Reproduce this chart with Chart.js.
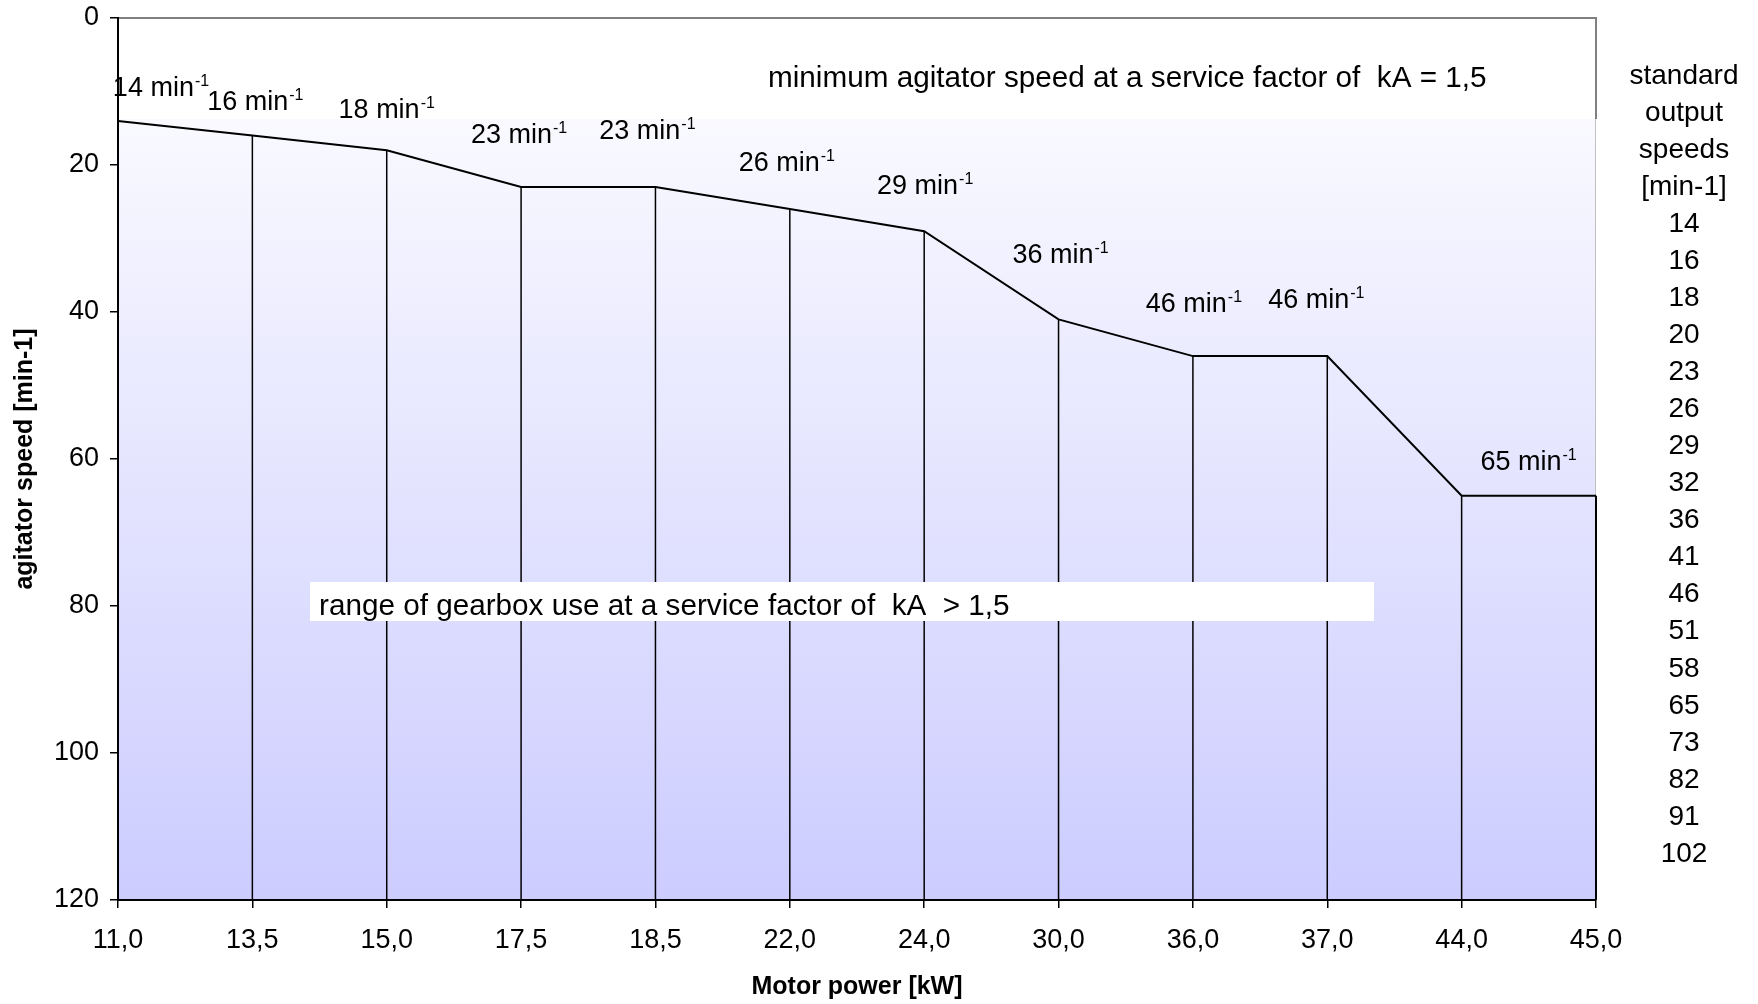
<!DOCTYPE html>
<html>
<head>
<meta charset="utf-8">
<script src="https://cdn.jsdelivr.net/npm/chart.js@4.4.1/dist/chart.umd.min.js"></script>
<style>
  html, body { margin: 0; padding: 0; background: #fff; }
</style>
</head>
<body>
<canvas id="speedChart" width="1758" height="1004"></canvas>
<script>
// data
const motorPower = ["11,0", "13,5", "15,0", "17,5", "18,5", "22,0", "24,0", "30,0", "36,0", "37,0", "44,0", "45,0"];
const minSpeed = [14, 16, 18, 23, 23, 26, 29, 41, 46, 46, 65, 65];
const labelSpeed = [14, 16, 18, 23, 23, 26, 29, 36, 46, 46, 65, null];
const yTicks = [0, 20, 40, 60, 80, 100, 120];
const columnHead = ["standard", "output", "speeds", "[min-1]"];
const standardSpeeds = [14, 16, 18, 20, 23, 26, 29, 32, 36, 41, 46, 51, 58, 65, 73, 82, 91, 102];

const FONT = "'Liberation Sans', Arial, sans-serif";
Chart.defaults.font.family = FONT;
Chart.defaults.color = "#000";

// small nudges for the min-1 labels (dx from point, baseline above point)
const labelNudge = [[43, -25], [3, -26], [0, -32], [-2, -44], [-8, -48], [-3, -38],
                    [1, -37], [2, -56], [1, -44], [-11, -48], [67, -26]];

function drawSpeedLabel(ctx, value, cx, baseline) {
    const main = value + " min";
    ctx.font = "27px " + FONT;
    const w1 = ctx.measureText(main).width;
    ctx.font = "16px " + FONT;
    const w2 = ctx.measureText("-1").width;
    const x0 = cx - (w1 + w2 + 1) / 2;
    ctx.font = "27px " + FONT;
    ctx.fillText(main, x0, baseline);
    ctx.font = "16px " + FONT;
    ctx.fillText("-1", x0 + w1 + 1, baseline - 10);
}

const plotDecor = {
    id: "plotDecor",
    beforeDraw(chart) {
        const { ctx, chartArea: a } = chart;
        ctx.save();
        const g = ctx.createLinearGradient(0, a.top, 0, a.bottom);
        g.addColorStop(0, "#ffffff");
        g.addColorStop(1, "#ccccff");
        ctx.fillStyle = g;
        ctx.fillRect(a.left, a.top, a.right - a.left, a.bottom - a.top);
        // white box behind the top note
        ctx.fillStyle = "#ffffff";
        ctx.fillRect(a.left, a.top, a.right - a.left, 101);
        ctx.strokeStyle = "#808080";
        ctx.lineWidth = 2;
        ctx.beginPath();
        ctx.moveTo(a.left, a.top);
        ctx.lineTo(a.right, a.top);
        ctx.lineTo(a.right, a.top + 101);
        ctx.stroke();
        ctx.strokeStyle = "#c0c0c0";
        ctx.lineWidth = 1;
        ctx.beginPath();
        ctx.moveTo(a.right - 0.5, a.top + 101);
        ctx.lineTo(a.right - 0.5, a.bottom);
        ctx.stroke();
        ctx.restore();
    },
    afterDatasetsDraw(chart) {
        const { ctx, chartArea: a } = chart;
        const pts = chart.getDatasetMeta(0).data;
        ctx.save();

        // drop lines from the curve to the axis
        ctx.strokeStyle = "#000";
        pts.forEach((p, i) => {
            ctx.lineWidth = i === pts.length - 1 ? 2 : 1.5;
            ctx.beginPath();
            ctx.moveTo(p.x, p.y);
            ctx.lineTo(p.x, a.bottom);
            ctx.stroke();
        });

        // speed labels
        ctx.fillStyle = "#000";
        ctx.textAlign = "left";
        ctx.textBaseline = "alphabetic";
        labelSpeed.forEach((v, i) => {
            if (v === null) return;
            const n = labelNudge[i];
            drawSpeedLabel(ctx, v, pts[i].x + n[0], pts[i].y + n[1]);
        });

        // top note
        ctx.font = "29.7px " + FONT;
        ctx.fillText("minimum agitator speed at a service factor of  kA = 1,5", a.left + 650, a.top + 69);

        // lower note in a white box, text clipped at the box edge
        const bx = a.left + 192, by = a.top + 564, bw = 1064, bh = 39;
        ctx.fillStyle = "#ffffff";
        ctx.fillRect(bx, by, bw, bh);
        ctx.beginPath();
        ctx.rect(bx, by, bw, bh);
        ctx.clip();
        ctx.fillStyle = "#000";
        ctx.font = "29.7px " + FONT;
        ctx.fillText("range of gearbox use at a service factor of  kA  > 1,5", bx + 9, by + 33);
        ctx.restore();
    },
    afterDraw(chart) {
        const { ctx } = chart;
        const lines = columnHead.concat(standardSpeeds.map(String));
        ctx.save();
        ctx.fillStyle = "#000";
        ctx.font = "28px " + FONT;
        ctx.textAlign = "center";
        ctx.textBaseline = "middle";
        lines.forEach((t, i) => ctx.fillText(t, 1684, 76 + i * 37.05));
        ctx.restore();
    }
};

new Chart(document.getElementById("speedChart").getContext("2d"), {
    type: "line",
    data: {
        labels: motorPower,
        datasets: [{
            label: "minimum agitator speed",
            data: minSpeed,
            borderColor: "#000",
            borderWidth: 2,
            pointRadius: 0,
            tension: 0,
            fill: false
        }]
    },
    options: {
        responsive: false,
        animation: false,
        layout: { padding: { top: 18, right: 162, left: 0, bottom: 0 } },
        plugins: {
            legend: { display: false },
            tooltip: { enabled: false }
        },
        scales: {
            x: {
                offset: false,
                grid: { drawOnChartArea: false, tickLength: 8, color: "#000", lineWidth: 1.5 },
                border: { color: "#000", width: 2 },
                ticks: { font: { size: 27 }, padding: 16, maxRotation: 0, autoSkip: false },
                title: {
                    display: true,
                    text: "Motor power [kW]",
                    font: { size: 25, weight: "bold" },
                    padding: { top: 10, bottom: 2 }
                },
                afterFit(s) { s.height = 104; }
            },
            y: {
                reverse: true,
                min: 0,
                max: 120,
                afterBuildTicks(s) { s.ticks = yTicks.map(v => ({ value: v })); },
                grid: { drawOnChartArea: false, tickLength: 8, color: "#000", lineWidth: 1.5 },
                border: { color: "#000", width: 2 },
                ticks: { font: { size: 27 }, padding: 11 },
                title: {
                    display: true,
                    text: "agitator speed [min-1]",
                    font: { size: 25, weight: "bold" },
                    padding: { top: 10, bottom: 2 }
                },
                afterFit(s) {
                    s.width = 118;
                    s.paddingTop = 0;
                    s.paddingBottom = 0;
                }
            }
        }
    },
    plugins: [plotDecor]
});
</script>
</body>
</html>
